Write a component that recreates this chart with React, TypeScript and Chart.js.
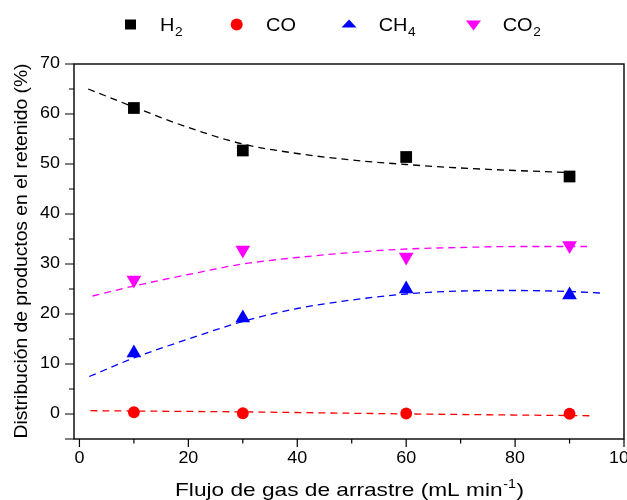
import React, { useEffect, useRef } from 'react';
import { Chart, registerables } from 'chart.js';
Chart.register(...registerables);

// ---- data ----
const flowRates = [10, 30, 60, 90];
const h2Values = [61.2, 52.7, 51.4, 47.5];
const coValues = [0.35, 0.15, 0.1, 0.05];
const ch4Values = [12.2, 19.2, 25.0, 23.8];
const co2Values = [26.8, 32.8, 31.4, 33.7];

const h2FitX = [1.6, 10, 20, 30, 40, 50, 60, 70, 80, 90];
const h2FitY = [65.0, 61.4, 57.3, 54.0, 52.1, 50.8, 49.9, 49.2, 48.7, 48.3];
const coFitX = [2, 30, 50, 70, 93.8];
const coFitY = [0.66, 0.42, 0.15, -0.1, -0.35];
const ch4FitX = [1.8, 10, 20, 30, 40, 50, 60, 70, 80, 90, 95.6];
const ch4FitY = [7.5, 11.2, 15.0, 18.5, 21.1, 22.8, 24.0, 24.6, 24.7, 24.5, 24.2];
const co2FitX = [2.4, 10, 20, 30, 40, 50, 60, 70, 80, 93.2];
const co2FitY = [23.6, 25.6, 27.9, 30.0, 31.3, 32.3, 33.0, 33.3, 33.5, 33.5];

const xTickValues = [0, 20, 40, 60, 80, 100];
const xMinorTicks = [10, 30, 50, 70, 90];
const yTickValues = [0, 10, 20, 30, 40, 50, 60, 70];
const yMinorTicks = [5, 15, 25, 35, 45, 55, 65];
const yBottomTick = [-5];

const legendBase = ['H', 'CO', 'CH', 'CO'];
const legendSub = ['2', '', '4', '2'];
const seriesColors = ['#000000', '#ff0000', '#0000ff', '#ff00ff'];

const yTitle = 'Distribución de productos en el retenido (%)';
const xTitleMain = 'Flujo de gas de arrastre (mL min';
const xTitleSup = '-1';
const xTitleEnd = ')';

const FONT = "'Liberation Sans', Arial, sans-serif";

const toPts = (xs: number[], ys: number[]) => xs.map((x, i) => ({ x, y: ys[i] }));

const drawStretched = (ctx: any, text: string, x: number, y: number, sx: number, align: string, baseline: string) => {
  ctx.save();
  ctx.translate(x, y);
  ctx.scale(sx, 1);
  ctx.textAlign = align;
  ctx.textBaseline = baseline;
  ctx.fillText(text, 0, 0);
  ctx.restore();
};

const decorPlugin = {
  id: 'decor',
  beforeDatasetsDraw(chart: any) {
    const { ctx, chartArea: a, scales } = chart;
    const xs = scales.x, ys = scales.y;
    ctx.save();
    ctx.strokeStyle = '#000';
    ctx.lineWidth = 1.4;
    ctx.strokeRect(a.left, a.top, a.right - a.left, a.bottom - a.top);
    ctx.lineWidth = 1.2;
    ctx.beginPath();
    ctx.moveTo(a.left - 9, a.bottom);
    ctx.lineTo(a.left, a.bottom);
    xTickValues.forEach((v) => {
      const p = xs.getPixelForValue(v);
      ctx.moveTo(p, a.bottom);
      ctx.lineTo(p, a.bottom + 8);
    });
    xMinorTicks.forEach((v) => {
      const p = xs.getPixelForValue(v);
      ctx.moveTo(p, a.bottom);
      ctx.lineTo(p, a.bottom + 4.5);
    });
    yTickValues.forEach((v) => {
      const p = ys.getPixelForValue(v);
      ctx.moveTo(a.left, p);
      ctx.lineTo(a.left - 9, p);
    });
    yMinorTicks.forEach((v) => {
      const p = ys.getPixelForValue(v);
      ctx.moveTo(a.left, p);
      ctx.lineTo(a.left - 5, p);
    });
    yBottomTick.forEach((v) => {
      const p = ys.getPixelForValue(v);
      ctx.moveTo(a.left, p);
      ctx.lineTo(a.left - 9, p);
    });
    ctx.stroke();

    // tick labels
    ctx.fillStyle = '#000';
    ctx.font = `16px ${FONT}`;
    xTickValues.forEach((v) => {
      drawStretched(ctx, String(v), xs.getPixelForValue(v), a.bottom + 20, 1.12, 'center', 'middle');
    });
    yTickValues.forEach((v) => {
      drawStretched(ctx, String(v), a.left - 14, ys.getPixelForValue(v), 1.12, 'right', 'middle');
    });
    ctx.restore();
  },
  afterDraw(chart: any) {
    const { ctx, chartArea: a } = chart;
    ctx.save();
    ctx.fillStyle = '#000';
    // Y title
    ctx.save();
    ctx.font = `18px ${FONT}`;
    const yw = ctx.measureText(yTitle).width;
    const yTarget = 375;
    ctx.translate(22, (a.top + a.bottom) / 2 - 0.5);
    ctx.rotate(-Math.PI / 2);
    ctx.scale(yTarget / yw, 1);
    ctx.textAlign = 'center';
    ctx.textBaseline = 'middle';
    ctx.fillText(yTitle, 0, 0);
    ctx.restore();

    // X title
    ctx.save();
    ctx.font = `19px ${FONT}`;
    const w1 = ctx.measureText(xTitleMain).width;
    const w3 = ctx.measureText(xTitleEnd).width;
    ctx.font = `12px ${FONT}`;
    const w2 = ctx.measureText(xTitleSup).width;
    const total = w1 + w2 + 1 + w3;
    const target = 349;
    const k = target / total;
    ctx.translate(175, 496);
    ctx.scale(k, 1);
    ctx.textBaseline = 'alphabetic';
    ctx.textAlign = 'left';
    ctx.font = `19px ${FONT}`;
    ctx.fillText(xTitleMain, 0, 0);
    ctx.font = `12px ${FONT}`;
    ctx.fillText(xTitleSup, w1 + 0.5, -8);
    ctx.font = `19px ${FONT}`;
    ctx.fillText(xTitleEnd, w1 + w2 + 1, 0);
    ctx.restore();

    // Legend
    const markerX = [130.5, 236.7, 349, 473.5];
    const textX = [160, 266, 378.7, 502.7];
    const cy = 24.5;
    markerX.forEach((mx, i) => {
      ctx.fillStyle = seriesColors[i];
      ctx.beginPath();
      if (i === 0) {
        ctx.rect(mx - 5.5, cy - 5, 11, 10);
      } else if (i === 1) {
        ctx.arc(mx, cy, 6, 0, Math.PI * 2);
      } else if (i === 2) {
        ctx.moveTo(mx, cy - 5);
        ctx.lineTo(mx + 7.5, cy + 3);
        ctx.lineTo(mx - 7.5, cy + 3);
        ctx.closePath();
      } else {
        ctx.moveTo(mx - 7.5, cy - 4);
        ctx.lineTo(mx + 7.5, cy - 4);
        ctx.lineTo(mx, cy + 6);
        ctx.closePath();
      }
      ctx.fill();
      ctx.fillStyle = '#000';
      ctx.font = `19px ${FONT}`;
      const bw = ctx.measureText(legendBase[i]).width * 1.05;
      drawStretched(ctx, legendBase[i], textX[i], 31, 1.05, 'left', 'alphabetic');
      if (legendSub[i]) {
        ctx.font = `13px ${FONT}`;
        drawStretched(ctx, legendSub[i], textX[i] + bw + 0.5, 36, 1.05, 'left', 'alphabetic');
      }
    });
    ctx.restore();
  },
};

export default function App() {
  const ref = useRef<HTMLCanvasElement>(null);
  useEffect(() => {
    if (!ref.current) return;
    const fitStyle = (color: string) => ({
      type: 'line' as const,
      showLine: true,
      pointRadius: 0,
      borderColor: color,
      borderWidth: 1.3,
      borderDash: [7, 5],
      cubicInterpolationMode: 'monotone' as const,
      fill: false,
      order: 1,
    });
    const markerStyle = (color: string, style: string, r: number, rot = 0) => ({
      type: 'scatter' as const,
      showLine: false,
      pointStyle: style,
      pointRadius: r,
      pointHoverRadius: r,
      pointRotation: rot,
      backgroundColor: color,
      borderColor: color,
      borderWidth: 0,
      order: 0,
    });
    const chart = new Chart(ref.current, {
      type: 'scatter',
      data: {
        datasets: [
          { label: 'H2', data: toPts(flowRates, h2Values), ...markerStyle(seriesColors[0], 'rect', 8.3) },
          { label: 'CO', data: toPts(flowRates, coValues), ...markerStyle(seriesColors[1], 'circle', 5.9) },
          { label: 'CH4', data: toPts(flowRates, ch4Values), ...markerStyle(seriesColors[2], 'triangle', 8.5) },
          { label: 'CO2', data: toPts(flowRates, co2Values), ...markerStyle(seriesColors[3], 'triangle', 8.5, 180) },
          { label: 'H2 fit', data: toPts(h2FitX, h2FitY), ...fitStyle(seriesColors[0]) },
          { label: 'CO fit', data: toPts(coFitX, coFitY), ...fitStyle(seriesColors[1]) },
          { label: 'CH4 fit', data: toPts(ch4FitX, ch4FitY), ...fitStyle(seriesColors[2]) },
          { label: 'CO2 fit', data: toPts(co2FitX, co2FitY), ...fitStyle(seriesColors[3]) },
        ] as any,
      },
      options: {
        animation: false,
        responsive: false,
        maintainAspectRatio: false,
        events: [],
        layout: { autoPadding: false, padding: { top: 64, right: 3, left: 0, bottom: 0 } },
        plugins: { legend: { display: false }, tooltip: { enabled: false }, title: { display: false } },
        scales: {
          x: {
            type: 'linear',
            min: -1,
            max: 100,
            grid: { display: false, drawTicks: false },
            border: { display: false },
            afterBuildTicks: (s: any) => { s.ticks = xTickValues.map((v) => ({ value: v })); },
            afterFit: (s: any) => { s.height = 61; s.paddingLeft = 0; s.paddingRight = 0; },
            ticks: { display: false },
          },
          y: {
            type: 'linear',
            min: -5,
            max: 70,
            grid: { display: false, drawTicks: false },
            border: { display: false },
            afterBuildTicks: (s: any) => { s.ticks = yTickValues.map((v) => ({ value: v })); },
            afterFit: (s: any) => { s.width = 74; s.paddingTop = 0; s.paddingBottom = 0; },
            ticks: { display: false },
          },
        },
      } as any,
      plugins: [decorPlugin],
    });
    return () => chart.destroy();
  }, []);
  return (
    <div style={{ position: 'absolute', left: 0, top: 0, width: 627, height: 500, background: '#fff' }}>
      <canvas ref={ref} width={627} height={500} style={{ display: 'block', width: 627, height: 500 }} />
    </div>
  );
}
